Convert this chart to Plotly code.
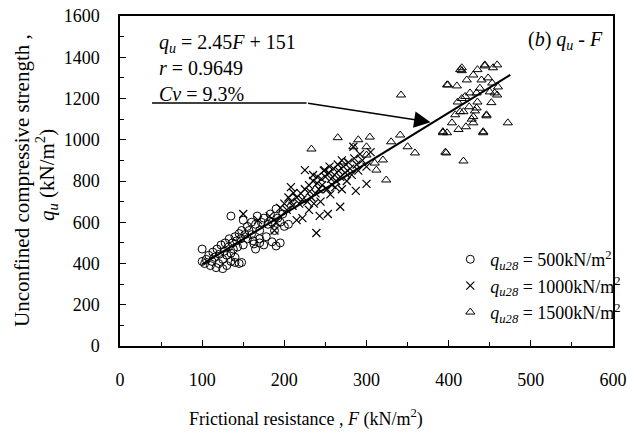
import plotly.graph_objects as go

# ---- data ----
c500_F = [100,100,103,105,108,110,112,113,115,117,118,120,121,123,125,125,127,128,130,130,132,133,135,135,137,138,140,140,142,143,145,145,147,148,150,150,152,155,155,157,160,160,162,165,167,170,170,172,175,178,180,183,185,188,190,192,195,198,200,205,175,185,195,165,148,140,135,190,163,170]
c500_q = [410,470,400,420,440,390,410,455,430,380,470,400,445,490,420,375,460,500,440,390,480,520,450,410,500,470,530,430,510,480,545,400,520,560,490,610,540,580,520,560,600,540,510,590,630,560,500,600,620,530,590,640,600,560,665,620,600,640,580,590,490,505,500,470,405,405,630,485,495,520]

c1000_F = [150,168,182,190,195,200,203,205,208,210,211,215,218,220,222,225,225,228,230,231,233,235,235,238,240,240,242,243,245,246,248,249,250,252,254,255,257,258,260,261,263,265,266,268,268,270,272,274,276,278,280,282,284,285,287,288,290,292,295,300,300,239,253,230,305,222,215,208,188,262,270,244,256,236]
c1000_q = [640,610,630,600,670,690,660,720,700,680,742,720,690,740,710,760,853,700,780,750,720,800,829,740,820,790,760,631,810,780,850,853,820,760,840,870,810,780,860,830,800,880,850,675,820,900,870,840,800,890,860,830,966,910,752,880,850,930,900,786,870,548,640,660,940,620,610,770,560,770,760,700,735,690]

c1500_F = [233,272,284,300,300,304,310,312,320,324,341,342,350,359,393,393,396,397,398,398,399,404,408,410,411,414,414,416,416,418,418,421,422,426,430,430,430,434,434,435,435,442,442,444,444,446,446,450,453,454,456,459,459,460,472,416,290,330,265,425,438,448,420,428,452,440,412,432]
c1500_q = [955,892,966,966,926,1013,887,853,902,805,1023,1217,966,936,1034,1039,940,936,1034,1266,1266,1082,1121,1261,1183,1136,1340,1335,1349,1136,897,1063,1290,1227,1082,1112,1314,1227,1154,1340,1183,1034,1039,1358,1363,1116,1121,1232,1275,1349,1227,1217,1363,1256,1082,1200,1000,990,1010,1160,1250,1300,1210,1100,1180,1290,1050,1140]

fit_slope = 2.45
fit_intercept = 151
fit_F = [100, 475]
fit_q = [fit_slope * f + fit_intercept for f in fit_F]

x_ticks = [0, 100, 200, 300, 400, 500, 600]
y_ticks = [0, 200, 400, 600, 800, 1000, 1200, 1400, 1600]

arrow_start = (39, 1178)
arrow_bend = (227, 1178)
arrow_tip = (378, 1085)

FONT = "Liberation Serif, Times New Roman, serif"
FS = 18

fig = go.Figure()
mk = dict(color="black", size=8, line=dict(color="black", width=1))
fig.add_trace(go.Scatter(x=c500_F, y=c500_q, mode="markers",
                         marker=dict(symbol="circle-open", **mk),
                         name="<i>q</i><sub><i>u28</i></sub> = 500kN/m<sup>2</sup>"))
fig.add_trace(go.Scatter(x=c1000_F, y=c1000_q, mode="markers",
                         marker=dict(symbol="x-thin-open", color="black", size=8, line=dict(color="black", width=1.2)),
                         name="<i>q</i><sub><i>u28</i></sub> = 1000kN/m<sup>2</sup>"))
fig.add_trace(go.Scatter(x=c1500_F, y=c1500_q, mode="markers",
                         marker=dict(symbol="triangle-up-open", **mk),
                         name="<i>q</i><sub><i>u28</i></sub> = 1500kN/m<sup>2</sup>"))
fig.add_trace(go.Scatter(x=fit_F, y=fit_q, mode="lines",
                         line=dict(color="black", width=2), showlegend=False))

fig.add_shape(type="line", x0=arrow_start[0], y0=arrow_start[1], x1=arrow_bend[0], y1=arrow_bend[1],
              xref="x", yref="y", line=dict(color="black", width=1.5))
fig.add_annotation(x=arrow_tip[0], y=arrow_tip[1], ax=arrow_bend[0], ay=arrow_bend[1],
                   xref="x", yref="y", axref="x", ayref="y", text="", showarrow=True,
                   arrowhead=2, arrowsize=2.2, arrowwidth=1.5, arrowcolor="black")

fig.add_annotation(x=45, y=1535, xref="x", yref="y", xanchor="left", yanchor="top", align="left",
                   showarrow=False,
                   text="<i>q</i><sub><i>u</i></sub> = 2.45<i>F</i> + 151<br><i>r</i> = 0.9649<br><i>Cv</i> = 9.3%",
                   font=dict(family=FONT, size=20, color="black"))
fig.add_annotation(x=590, y=1480, xref="x", yref="y", xanchor="right", yanchor="middle",
                   showarrow=False,
                   text="(<i>b</i>) <i>q</i><sub><i>u</i></sub> - <i>F</i>",
                   font=dict(family=FONT, size=20, color="black"))

# axis titles
fig.add_annotation(x=(22 - 120) / 493, y=0.5, xref="paper", yref="paper", textangle=-90, showarrow=False,
                   xanchor="center", yanchor="middle",
                   text="Unconfined compressive strength ,",
                   font=dict(family=FONT, size=21, color="black"))
fig.add_annotation(x=(46 - 120) / 493, y=0.518, xref="paper", yref="paper", textangle=-90, showarrow=False,
                   xanchor="center", yanchor="middle",
                   text="<i>q</i><sub><i>u</i></sub> (kN/m<sup>2</sup>)",
                   font=dict(family=FONT, size=21, color="black"))
fig.add_annotation(x=(306 - 120) / 493, y=-(418 - 346) / 330, xref="paper", yref="paper", showarrow=False,
                   xanchor="center", yanchor="middle",
                   text="Frictional resistance , <i>F</i> (kN/m<sup>2</sup>)",
                   font=dict(family=FONT, size=18, color="black"))

axis_common = dict(showgrid=False, zeroline=False, showline=True, linecolor="black", linewidth=1.5,
                   mirror=True, ticks="inside", ticklen=6, tickwidth=1.2, tickcolor="black",
                   automargin=False,
                   tickfont=dict(family=FONT, size=FS, color="black"))
fig.update_xaxes(range=[0, 600], tickvals=x_ticks, ticklabelstandoff=17,
                 minor=dict(dtick=50, ticks="inside", ticklen=4, tickcolor="black", tickwidth=1.2),
                 **axis_common)
fig.update_yaxes(range=[0, 1600], tickvals=y_ticks, ticklabelstandoff=15,
                 minor=dict(dtick=100, ticks="inside", ticklen=4, tickcolor="black", tickwidth=1.2),
                 **axis_common)

fig.update_layout(
    width=627, height=437,
    margin=dict(l=120, r=14, t=16, b=91, autoexpand=False),
    paper_bgcolor="white", plot_bgcolor="white",
    font=dict(family=FONT, size=FS, color="black"),
    legend=dict(x=0.67, y=0.318, xanchor="left", yanchor="top", bgcolor="rgba(0,0,0,0)",
                font=dict(family=FONT, size=18, color="black"), tracegroupgap=0,
                itemwidth=30),
)

fig.write_html("out.html", config={"displayModeBar": False},
               post_script="document.body.style.margin='0px';document.body.style.overflow='hidden';")
